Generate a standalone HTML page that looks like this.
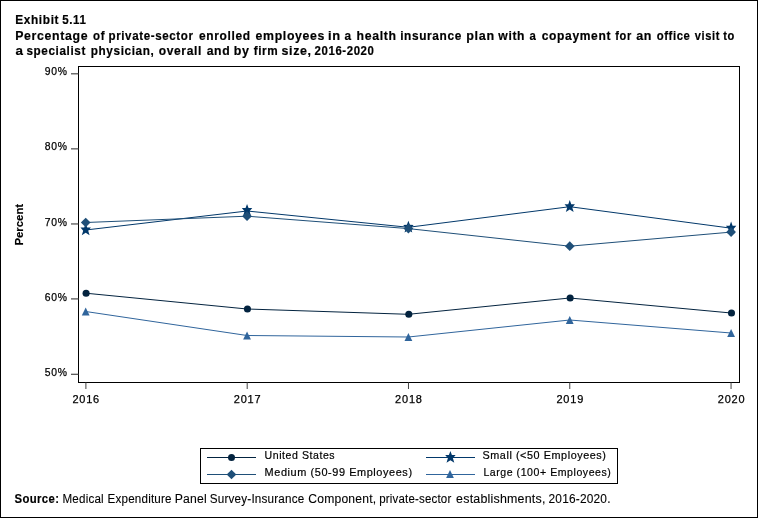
<!DOCTYPE html>
<html><head><meta charset="utf-8"><style>
html,body{margin:0;padding:0;background:#fff;}
body{width:758px;height:518px;overflow:hidden;position:relative;}
svg{position:absolute;left:0;top:0;will-change:transform;}
text{font-family:"Liberation Sans",sans-serif;fill:#000;}
.tt{font-weight:bold;font-size:13.2px;letter-spacing:0.7px;stroke:#000;stroke-width:0.2px;}
.tk{font-size:11px;letter-spacing:0.8px;stroke:#000;stroke-width:0.25px;}
.lg{font-size:11.4px;letter-spacing:0.6px;stroke:#000;stroke-width:0.2px;}
.pc{font-size:11px;font-weight:bold;stroke:#000;stroke-width:0.15px;}
.sb{font-size:12px;font-weight:bold;letter-spacing:0.4px;stroke:#000;stroke-width:0.15px;}
.sr{font-size:12px;letter-spacing:0.2px;stroke:#000;stroke-width:0.1px;}
</style></head><body>
<svg width="758" height="518" viewBox="0 0 758 518">
<rect x="0.5" y="0.5" width="757" height="517" fill="#fff" stroke="#000" stroke-width="1"/>
<rect x="78.5" y="66.5" width="661" height="316" fill="none" stroke="#000" stroke-width="1"/>
<line x1="71" y1="73.8" x2="78.5" y2="73.8" stroke="#4a4a4a" stroke-width="1.2"/>
<text x="67.8" y="74.9" text-anchor="end" class="tk" lengthAdjust="spacingAndGlyphs" textLength="23">90%</text>
<line x1="71" y1="148.85" x2="78.5" y2="148.85" stroke="#4a4a4a" stroke-width="1.2"/>
<text x="67.8" y="150.1" text-anchor="end" class="tk" lengthAdjust="spacingAndGlyphs" textLength="23">80%</text>
<line x1="71" y1="223.95" x2="78.5" y2="223.95" stroke="#4a4a4a" stroke-width="1.2"/>
<text x="67.8" y="225.8" text-anchor="end" class="tk" lengthAdjust="spacingAndGlyphs" textLength="23">70%</text>
<line x1="71" y1="298.9" x2="78.5" y2="298.9" stroke="#4a4a4a" stroke-width="1.2"/>
<text x="67.8" y="300.8" text-anchor="end" class="tk" lengthAdjust="spacingAndGlyphs" textLength="23">60%</text>
<line x1="71" y1="374.3" x2="78.5" y2="374.3" stroke="#4a4a4a" stroke-width="1.2"/>
<text x="67.8" y="376.1" text-anchor="end" class="tk" lengthAdjust="spacingAndGlyphs" textLength="23">50%</text>
<line x1="85.90" y1="382.5" x2="85.90" y2="389" stroke="#444" stroke-width="1"/>
<text x="86.20" y="403" text-anchor="middle" class="tk" lengthAdjust="spacingAndGlyphs" textLength="27.6">2016</text>
<line x1="247.19" y1="382.5" x2="247.19" y2="389" stroke="#444" stroke-width="1"/>
<text x="247.55" y="403" text-anchor="middle" class="tk" lengthAdjust="spacingAndGlyphs" textLength="27.6">2017</text>
<line x1="408.48" y1="382.5" x2="408.48" y2="389" stroke="#444" stroke-width="1"/>
<text x="408.90" y="403" text-anchor="middle" class="tk" lengthAdjust="spacingAndGlyphs" textLength="27.6">2018</text>
<line x1="569.77" y1="382.5" x2="569.77" y2="389" stroke="#444" stroke-width="1"/>
<text x="570.25" y="403" text-anchor="middle" class="tk" lengthAdjust="spacingAndGlyphs" textLength="27.6">2019</text>
<line x1="731.06" y1="382.5" x2="731.06" y2="389" stroke="#444" stroke-width="1"/>
<text x="731.60" y="403" text-anchor="middle" class="tk" lengthAdjust="spacingAndGlyphs" textLength="27.6">2020</text>
<polyline points="85.70,293.20 247.05,309.00 408.40,314.30 569.75,298.00 731.10,313.00" fill="none" stroke="#03233f" stroke-width="1"/>
<circle cx="86.10000000000001" cy="293.2" r="3.55" fill="#03233f"/>
<circle cx="247.45000000000002" cy="309.0" r="3.55" fill="#03233f"/>
<circle cx="408.79999999999995" cy="314.3" r="3.55" fill="#03233f"/>
<circle cx="570.15" cy="298.0" r="3.55" fill="#03233f"/>
<circle cx="731.5" cy="313.0" r="3.55" fill="#03233f"/>
<polyline points="85.70,230.00 247.05,211.00 408.40,227.30 569.75,206.70 731.10,228.20" fill="none" stroke="#02386a" stroke-width="1"/>
<polygon points="85.70,223.40 87.20,227.50 90.90,227.60 88.20,230.70 89.60,235.20 85.70,232.80 81.80,235.20 83.20,230.70 80.50,227.60 84.20,227.50" fill="#02386a"/>
<polygon points="247.05,203.90 248.55,208.00 252.25,208.10 249.55,211.20 250.95,215.70 247.05,213.30 243.15,215.70 244.55,211.20 241.85,208.10 245.55,208.00" fill="#02386a"/>
<polygon points="408.40,220.70 409.90,224.80 413.60,224.90 410.90,228.00 412.30,232.50 408.40,230.10 404.50,232.50 405.90,228.00 403.20,224.90 406.90,224.80" fill="#02386a"/>
<polygon points="569.75,200.10 571.25,204.20 574.95,204.30 572.25,207.40 573.65,211.90 569.75,209.50 565.85,211.90 567.25,207.40 564.55,204.30 568.25,204.20" fill="#02386a"/>
<polygon points="731.10,221.60 732.60,225.70 736.30,225.80 733.60,228.90 735.00,233.40 731.10,231.00 727.20,233.40 728.60,228.90 725.90,225.80 729.60,225.70" fill="#02386a"/>
<polyline points="85.70,222.50 247.05,216.20 408.40,228.60 569.75,246.20 731.10,232.10" fill="none" stroke="#1f4f78" stroke-width="1"/>
<polygon points="85.70,217.65 90.55,222.50 85.70,227.35 80.85,222.50" fill="#1f4f78"/>
<polygon points="247.05,211.35 251.90,216.20 247.05,221.05 242.20,216.20" fill="#1f4f78"/>
<polygon points="408.40,223.75 413.25,228.60 408.40,233.45 403.55,228.60" fill="#1f4f78"/>
<polygon points="569.75,241.35 574.60,246.20 569.75,251.05 564.90,246.20" fill="#1f4f78"/>
<polygon points="731.10,227.25 735.95,232.10 731.10,236.95 726.25,232.10" fill="#1f4f78"/>
<polyline points="85.70,311.50 247.05,335.50 408.40,337.00 569.75,320.00 731.10,333.00" fill="none" stroke="#30659c" stroke-width="1"/>
<polygon points="85.70,307.60 89.60,315.40 81.80,315.40" fill="#30659c"/>
<polygon points="247.05,331.60 250.95,339.40 243.15,339.40" fill="#30659c"/>
<polygon points="408.40,333.10 412.30,340.90 404.50,340.90" fill="#30659c"/>
<polygon points="569.75,316.10 573.65,323.90 565.85,323.90" fill="#30659c"/>
<polygon points="731.10,329.10 735.00,336.90 727.20,336.90" fill="#30659c"/>
<rect x="200.5" y="448.5" width="417" height="35" fill="none" stroke="#000" stroke-width="1"/>
<rect x="207" y="457.0" width="49" height="1" fill="#03233f"/>
<circle cx="231.5" cy="457.5" r="3.5" fill="#03233f"/>
<rect x="207" y="474.0" width="49" height="1" fill="#1f4f78"/>
<polygon points="231.50,469.70 236.30,474.50 231.50,479.30 226.70,474.50" fill="#1f4f78"/>
<rect x="426" y="457.0" width="49" height="1" fill="#02386a"/>
<polygon points="450.40,450.90 451.90,455.00 455.60,455.10 452.90,458.20 454.30,462.70 450.40,460.30 446.50,462.70 447.90,458.20 445.20,455.10 448.90,455.00" fill="#02386a"/>
<rect x="426" y="474.0" width="49" height="1" fill="#30659c"/>
<polygon points="450.00,470.10 453.90,477.90 446.10,477.90" fill="#30659c"/>
<text x="264.6" y="458.8" class="lg" lengthAdjust="spacingAndGlyphs" textLength="70.6">United States</text>
<text x="264.6" y="475.7" class="lg" lengthAdjust="spacingAndGlyphs" textLength="148">Medium (50-99 Employees)</text>
<text x="482.5" y="458.8" class="lg" lengthAdjust="spacingAndGlyphs" textLength="124">Small (&lt;50 Employees)</text>
<text x="483.4" y="475.7" class="lg" lengthAdjust="spacingAndGlyphs" textLength="128">Large (100+ Employees)</text>
<text transform="translate(22.8,245.5) rotate(-90)" class="pc" lengthAdjust="spacingAndGlyphs" textLength="41.6">Percent</text>
<text x="15.29" y="24.0" class="tt" lengthAdjust="spacingAndGlyphs" textLength="43.84">Exhibit</text>
<text x="62.20" y="24.0" class="tt" lengthAdjust="spacingAndGlyphs" textLength="24.30">5.11</text>
<text x="15.24" y="39.9" class="tt" lengthAdjust="spacingAndGlyphs" textLength="72.96">Percentage</text>
<text x="93.07" y="39.9" class="tt" lengthAdjust="spacingAndGlyphs" textLength="12.02">of</text>
<text x="108.50" y="39.9" class="tt" lengthAdjust="spacingAndGlyphs" textLength="85.00">private-sector</text>
<text x="199.01" y="39.9" class="tt" lengthAdjust="spacingAndGlyphs" textLength="51.65">enrolled</text>
<text x="255.60" y="39.9" class="tt" lengthAdjust="spacingAndGlyphs" textLength="69.40">employees</text>
<text x="328.10" y="39.9" class="tt" lengthAdjust="spacingAndGlyphs" textLength="12.82">in</text>
<text x="344.46" y="39.9" class="tt" lengthAdjust="spacingAndGlyphs" textLength="7.20">a</text>
<text x="356.62" y="39.9" class="tt" lengthAdjust="spacingAndGlyphs" textLength="40.02">health</text>
<text x="400.18" y="39.9" class="tt" lengthAdjust="spacingAndGlyphs" textLength="61.78">insurance</text>
<text x="466.29" y="39.9" class="tt" lengthAdjust="spacingAndGlyphs" textLength="28.45">plan</text>
<text x="498.37" y="39.9" class="tt" lengthAdjust="spacingAndGlyphs" textLength="26.81">with</text>
<text x="529.48" y="39.9" class="tt" lengthAdjust="spacingAndGlyphs" textLength="6.93">a</text>
<text x="541.79" y="39.9" class="tt" lengthAdjust="spacingAndGlyphs" textLength="69.32">copayment</text>
<text x="615.34" y="39.9" class="tt" lengthAdjust="spacingAndGlyphs" textLength="16.44">for</text>
<text x="636.26" y="39.9" class="tt" lengthAdjust="spacingAndGlyphs" textLength="15.90">an</text>
<text x="656.66" y="39.9" class="tt" lengthAdjust="spacingAndGlyphs" textLength="33.83">office</text>
<text x="694.81" y="39.9" class="tt" lengthAdjust="spacingAndGlyphs" textLength="25.13">visit</text>
<text x="723.28" y="39.9" class="tt" lengthAdjust="spacingAndGlyphs" textLength="11.70">to</text>
<text x="15.61" y="54.6" class="tt" lengthAdjust="spacingAndGlyphs" textLength="8.17">a</text>
<text x="26.38" y="54.6" class="tt" lengthAdjust="spacingAndGlyphs" textLength="59.53">specialist</text>
<text x="90.73" y="54.6" class="tt" lengthAdjust="spacingAndGlyphs" textLength="63.73">physician,</text>
<text x="158.66" y="54.6" class="tt" lengthAdjust="spacingAndGlyphs" textLength="43.30">overall</text>
<text x="206.63" y="54.6" class="tt" lengthAdjust="spacingAndGlyphs" textLength="23.65">and</text>
<text x="233.76" y="54.6" class="tt" lengthAdjust="spacingAndGlyphs" textLength="15.90">by</text>
<text x="253.70" y="54.6" class="tt" lengthAdjust="spacingAndGlyphs" textLength="24.68">firm</text>
<text x="281.47" y="54.6" class="tt" lengthAdjust="spacingAndGlyphs" textLength="30.27">size,</text>
<text x="314.62" y="54.6" class="tt" lengthAdjust="spacingAndGlyphs" textLength="59.86">2016-2020</text>
<text x="14.46" y="502.9" class="sb" lengthAdjust="spacingAndGlyphs" textLength="44.88">Source:</text>
<text x="62.50" y="502.9" class="sr" lengthAdjust="spacingAndGlyphs" textLength="41.37">Medical</text>
<text x="107.60" y="502.9" class="sr" lengthAdjust="spacingAndGlyphs" textLength="64.15">Expenditure</text>
<text x="174.78" y="502.9" class="sr" lengthAdjust="spacingAndGlyphs" textLength="32.22">Panel</text>
<text x="209.74" y="502.9" class="sr" lengthAdjust="spacingAndGlyphs" textLength="94.76">Survey-Insurance</text>
<text x="308.25" y="502.9" class="sr" lengthAdjust="spacingAndGlyphs" textLength="68.08">Component,</text>
<text x="379.21" y="502.9" class="sr" lengthAdjust="spacingAndGlyphs" textLength="72.27">private-sector</text>
<text x="456.14" y="502.9" class="sr" lengthAdjust="spacingAndGlyphs" textLength="89.49">establishments,</text>
<text x="548.50" y="502.9" class="sr" lengthAdjust="spacingAndGlyphs" textLength="62.18">2016-2020.</text>
</svg>
</body></html>
